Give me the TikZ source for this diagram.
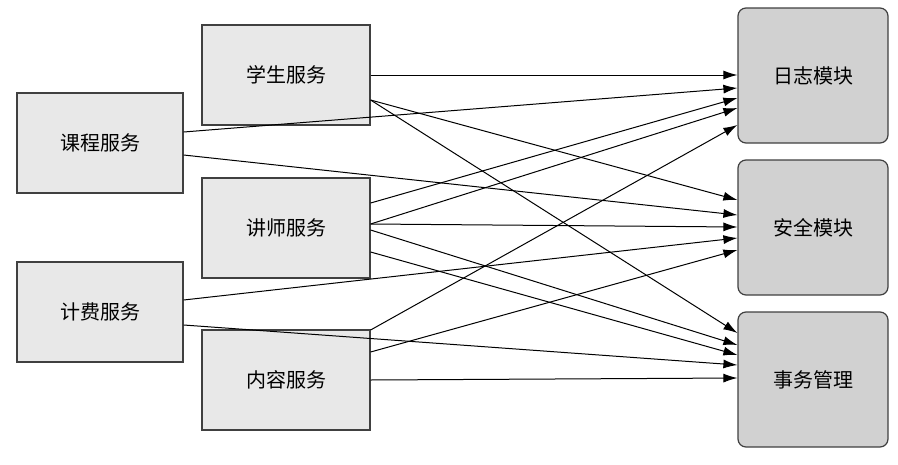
\documentclass[tikz,border=0pt]{standalone}
\usepackage{fontspec}
\usetikzlibrary{arrows.meta}
\newfontfamily\cjk{Noto Sans CJK SC}
\begin{document}
\begin{tikzpicture}[x=1pt,y=-1pt,
 svc/.style={draw=black!75,line width=1.2pt,fill=black!9,minimum width=166pt,minimum height=100pt,inner sep=0pt,font=\cjk\fontsize{20}{24}\selectfont},
 mod/.style={draw=black!75,line width=1.2pt,fill=black!18,rounded corners=8pt,minimum width=150pt,minimum height=135pt,inner sep=0pt,font=\cjk\fontsize{20}{24}\selectfont},
 arr/.style={line width=1pt,-{Latex[length=14pt,width=9pt]}}]
\useasboundingbox (0,0) rectangle (898,464);
\node[svc] (kc) at (100,143) {课程服务};
\node[svc] (jf) at (100,312) {计费服务};
\node[svc,minimum width=168pt] (xs) at (286,75) {学生服务};
\node[svc,minimum width=168pt] (js) at (286,228) {讲师服务};
\node[svc,minimum width=168pt] (nr) at (286,380) {内容服务};
\node[mod] (rz) at (813,75.5) {日志模块};
\node[mod] (aq) at (813,227.5) {安全模块};
\node[mod] (sw) at (813,379.5) {事务管理};
\foreach \s/\sy/\t/\ty in {xs/75/rz/75, xs/100/aq/200, xs/100/sw/333,
  js/203/rz/98, js/224/rz/108, js/224/aq/227, js/230/sw/345, js/252/sw/355,
  nr/330/rz/125, nr/352/aq/250, nr/380/sw/378}
  \draw[arr] (\s.east |- 0,\sy) -- (\t.west |- 0,\ty);
\foreach \s/\sy/\t/\ty in {kc/132/rz/88, kc/155/aq/215, jf/300/aq/238, jf/325/sw/365}
  \draw[arr] (\s.east |- 0,\sy) -- (\t.west |- 0,\ty);
\end{tikzpicture}
\end{document}
